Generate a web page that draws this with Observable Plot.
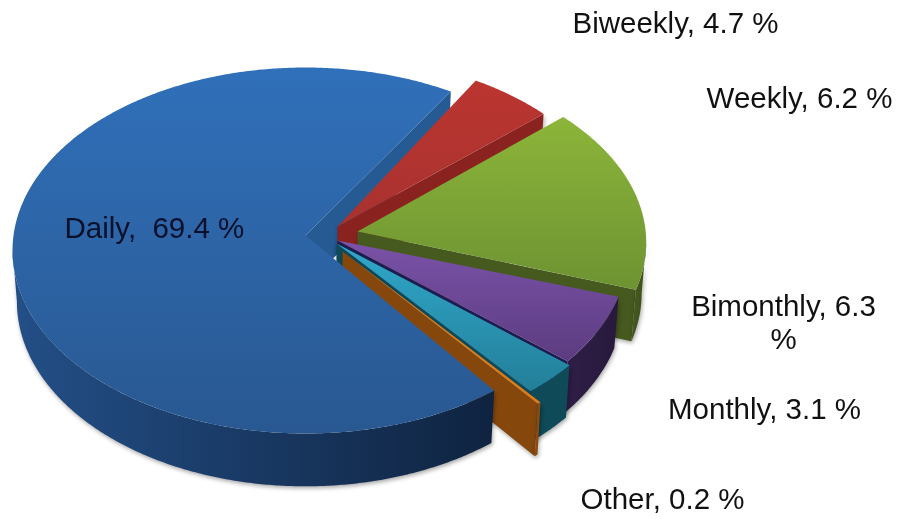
<!DOCTYPE html>
<html>
<head>
<meta charset="utf-8">
<style>html,body{margin:0;padding:0;background:#fff}svg{display:block}</style>
<script src="https://cdn.jsdelivr.net/npm/d3@7"></script>
<script src="https://cdn.jsdelivr.net/npm/@observablehq/plot@0.6"></script>
</head>
<body>
<div id="chart"></div>
<script>
// Data
const categories = ["Daily", "Biweekly", "Weekly", "Bimonthly", "Monthly", "Other"];
const shares = [69.4, 4.7, 16.2, 6.3, 3.1, 0.2];   // wedge sizes as drawn
const labels = ["Daily,  69.4 %", "Biweekly, 4.7 %", "Weekly, 6.2 %", "Bimonthly, 6.3\n%", "Monthly, 3.1 %", "Other, 0.2 %"];

// Layout
const W = 898, H = 519;
const centre = {x: 305, y: 250, rx: 293, ry: 183};
const apexBase = {x: 305, y: 235};
const depth = 51, bottomScaleX = 0.985, bottomScaleY = 1.01;
const startAngle = 49.9;
const rimDX = [0, 25, 36, 30, 32, 42];
const rimDY = [0, -11, -8, -1, 3, 14];
const rxScale = [1, 1, 1.04, 1, 1, 1];
const apexDX = [0, 32, 52, 32, 31, 37];
const apexDY = [0, -9, -4, 5, 8, 16];
const labelX = [64, 675, 799, 783, 764, 662];
const labelY = [228, 24, 99, 307, 410, 500];
const labelAnchor = ["start", "middle", "middle", "middle", "middle", "middle"];

// Colours: [top start, top end, rim start, rim end, cut face]
const palette = [
  ["#3070ba", "#295891", "#234f87", "#0f2340", "#255a92"],
  ["#bb3530", "#a83230", "#8a2320", "#8a2320", "#8a2320"],
  ["#8cb53a", "#6d9332", "#46591f", "#3e5019", "#46591f"],
  ["#7a52a8", "#5c3c80", "#2f1f48", "#27183c", "#1c1c50"],
  ["#30a8ca", "#237f99", "#0f4a58", "#0f4a58", "#0f4a58"],
  ["#e8801c", "#e07a18", "#8c4a0e", "#8c4a0e", "#86470d"]
];

// Geometry from the shares
const rad = d => d * Math.PI / 180;
let acc = startAngle;
const slices = categories.map((name, i) => {
  const t0 = acc, t1 = acc + shares[i] * 3.6;
  acc = t1;
  return {name, i, t0, t1};
});
const rimTop = (i, t) => ({x: centre.x + rimDX[i] + centre.rx * rxScale[i] * Math.cos(rad(t)), y: centre.y + rimDY[i] + centre.ry * Math.sin(rad(t))});
const rimBot = (i, t) => ({x: centre.x + rimDX[i] + centre.rx * rxScale[i] * bottomScaleX * Math.cos(rad(t)), y: centre.y + rimDY[i] + depth + centre.ry * bottomScaleY * Math.sin(rad(t))});
const apex = i => ({x: apexBase.x + apexDX[i], y: apexBase.y + apexDY[i]});
const angles = (a, b) => { const n = Math.max(2, Math.ceil((b - a) * 2)); return d3.range(n + 1).map(k => a + (b - a) * k / n); };

const topFace = s => [apex(s.i), ...angles(s.t0, s.t1).map(t => rimTop(s.i, t))];
const cutFace = (s, t) => { const a = apex(s.i); return [a, rimTop(s.i, t), rimBot(s.i, t), {x: a.x, y: a.y + depth}]; };
function rimFace(s) {
  // visible part of the rim: the front half, angles 0..180 (mod 360)
  const a = Math.max(s.t0, 0), b = Math.min(s.t1, 180);
  const ranges = [];
  if (b > a) ranges.push([a, b]);
  const a2 = Math.max(s.t0, 360), b2 = Math.min(s.t1, 540);
  if (b2 > a2) ranges.push([a2, b2]);
  return ranges.map(([p, q]) => [...angles(p, q).map(t => rimTop(s.i, t)), ...angles(p, q).reverse().map(t => rimBot(s.i, t))]);
}

const stops = (id, c0, c1, horizontal) =>
  `<linearGradient id="${id}" x1="0" y1="0" x2="${horizontal ? 1 : 0}" y2="${horizontal ? 0 : 1}"><stop offset="0" stop-color="${c0}"/><stop offset="1" stop-color="${c1}"/></linearGradient>`;
const defsMark = () => {
  const d = d3.create("svg:defs");
  d.html(slices.map(s => stops(`top${s.i}`, palette[s.i][0], palette[s.i][1], false) + stops(`rim${s.i}`, palette[s.i][2], palette[s.i][3], true)).join(""));
  return d.node();
};
const shadow = "drop-shadow(1px 2px 2px rgba(0,0,0,0.35))";
const poly = (pts, fill, extra = {}) => Plot.line(pts, {x: "x", y: "y", fill, stroke: "none", curve: "linear", ...extra});

function sliceMarks(s) {
  const out = [];
  out.push(poly(cutFace(s, s.t1), palette[s.i][4], {imageFilter: shadow}));
  rimFace(s).forEach(r => out.push(poly(r, `url(#rim${s.i})`, {imageFilter: shadow})));
  out.push(poly(topFace(s), `url(#top${s.i})`));
  return out;
}

// Back to front; the large slice's top goes last as it overlaps the others' cut faces
const [daily, ...rest] = slices;
const labelRows = labels.map((text, i) => ({text, x: labelX[i], y: labelY[i], anchor: labelAnchor[i]}));
const marks = [
  defsMark,
  poly(cutFace(daily, daily.t1), palette[0][4]),
  ...rest.flatMap(sliceMarks),
  ...rimFace(daily).map(r => poly(r, "url(#rim0)", {imageFilter: shadow})),
  poly(topFace(daily), "url(#top0)"),
  Plot.text(labelRows.filter(d => d.anchor === "start"),
    {x: "x", y: "y", text: "text", textAnchor: "start", fontSize: 29.5, fontFamily: "Liberation Sans", fill: "#0a0f2a"}),
  Plot.text(labelRows.filter(d => d.anchor === "middle"),
    {x: "x", y: "y", text: "text", textAnchor: "middle", lineAnchor: "top", lineHeight: 1.12, dy: -15, fontSize: 29.5, fontFamily: "Liberation Sans", fill: "#111"})
];

const chart = Plot.plot({
  width: W, height: H, margin: 0,
  x: {domain: [0, W], range: [0, W], axis: null},
  y: {domain: [0, H], range: [0, H], axis: null},
  marks
});
chart.style.filter = "blur(0.5px)";
document.getElementById("chart").append(chart);
</script>
</body>
</html>
